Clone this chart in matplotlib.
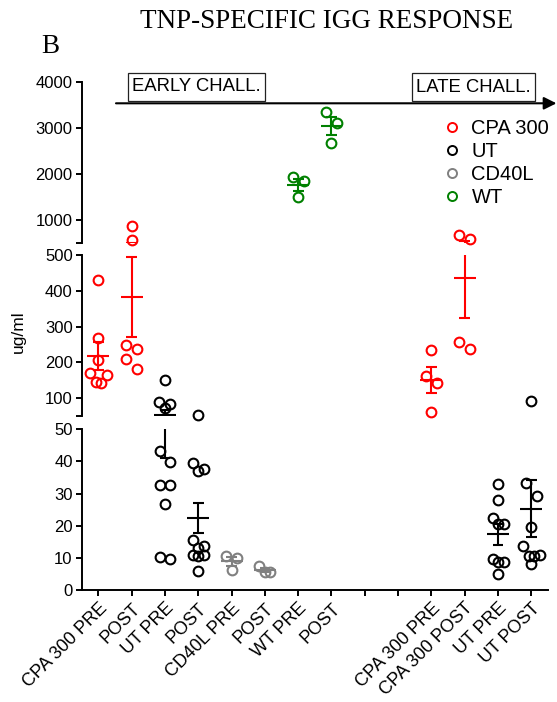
import numpy as np
import matplotlib
matplotlib.use('Agg')
import matplotlib.pyplot as plt
from matplotlib.lines import Line2D
from matplotlib.patches import Rectangle, FancyArrowPatch

plt.rcParams['font.family'] = ['Liberation Sans', 'DejaVu Sans']

# ---------------- data ----------------
categories = ['CPA 300 PRE', 'POST', 'UT PRE', 'POST', 'CD40L PRE', 'POST',
              'WT PRE', 'POST', '', '', 'CPA 300 PRE', 'CPA 300 POST',
              'UT PRE', 'UT POST']

cpa_pre_early = [430, 269, 206, 169, 165, 146, 143]
cpa_post_early = [863, 560, 248, 237, 208, 181]
ut_pre_early = [151, 90, 83, 72, 43.3, 39.9, 32.7, 32.7, 26.8, 10.4, 9.6]
ut_post_early = [52, 39.4, 37.6, 37.0, 15.6, 13.7, 13.0, 10.9, 10.8, 10.6, 6.0]
cd40l_pre = [10.6, 10.1, 6.2]
cd40l_post = [7.6, 5.6, 5.5]
wt_pre = [1922, 1848, 1487]
wt_post = [3348, 3096, 2661]
cpa_pre_late = [234, 163, 143, 62]
cpa_post_late = [667, 580, 256, 236]
ut_pre_late = [32.9, 28.0, 22.3, 20.7, 20.5, 9.6, 8.8, 8.6, 5.0]
ut_post_late = [92, 33.2, 29.2, 19.5, 13.7, 10.9, 10.7, 10.6, 8.1]

group_positions = [0, 1, 2, 3, 4, 5, 6, 7, 10, 11, 12, 13]
group_values = [cpa_pre_early, cpa_post_early, ut_pre_early, ut_post_early,
                cd40l_pre, cd40l_post, wt_pre, wt_post,
                cpa_pre_late, cpa_post_late, ut_pre_late, ut_post_late]
group_kind = ['CPA 300', 'CPA 300', 'UT', 'UT', 'CD40L', 'CD40L', 'WT', 'WT',
              'CPA 300', 'CPA 300', 'UT', 'UT']

legend_labels = ['CPA 300', 'UT', 'CD40L', 'WT']
legend_colors = ['#FF0000', '#000000', '#808080', '#008000']
color_of = dict(zip(legend_labels, legend_colors))

seg_limits = [(0, 50), (50, 500), (500, 4000)]
seg_ticks = [[0, 10, 20, 30, 40, 50],
             [50, 100, 200, 300, 400, 500],
             [500, 1000, 2000, 3000, 4000]]
seg_ticklabels = [['0', '10', '20', '30', '40', '50'],
                  ['', '100', '200', '300', '400', '500'],
                  ['', '1000', '2000', '3000', '4000']]

# ---------------- figure ----------------
FW, FH = 557, 702
fig = plt.figure(figsize=(FW / 100, FH / 100), dpi=100)
L, W = 0.1467, 0.8371
ax_bot = fig.add_axes([L, 0.1595, W, 0.2289])
ax_mid = fig.add_axes([L, 0.4074, W, 0.2293])
ax_top = fig.add_axes([L, 0.6543, W, 0.2293])
axes = [ax_bot, ax_mid, ax_top]

LW = 1.4
for ax, (lo, hi), tk, tl in zip(axes, seg_limits, seg_ticks, seg_ticklabels):
    ax.set_xlim(-0.5, 13.5)
    ax.set_ylim(lo, hi)
    ax.patch.set_visible(False)
    for s in ['top', 'right']:
        ax.spines[s].set_visible(False)
    ax.spines['left'].set_linewidth(LW)
    ax.spines['bottom'].set_linewidth(LW)
    ax.set_yticks(tk)
    ax.set_yticklabels(tl)
    ax.tick_params(axis='y', length=4, width=LW, labelsize=12, pad=2.5)
    if ax is not ax_bot:
        ax.spines['bottom'].set_visible(False)
        ax.tick_params(axis='x', bottom=False, labelbottom=False)

ax_bot.set_xticks(range(len(categories)))
ax_bot.set_xticklabels(categories, rotation=45, ha='right', va='top',
                       rotation_mode='anchor', fontsize=13)
ax_bot.tick_params(axis='x', length=4, width=LW, pad=3)


def owner(v):
    return 0 if v < 50 else (1 if v < 500 else 2)


pxu = ax_bot.transData.transform((1, 0))[0] - ax_bot.transData.transform((0, 0))[0]
ROW_H = 13.0


def row_layout(values, xc):
    """Prism-like scatter: points close in height share a row and are spread."""
    vals = np.asarray(values, dtype=float)
    py = np.array([axes[owner(v)].transData.transform((xc, v))[1] for v in vals])
    order = np.argsort(-py)
    offs = np.zeros(len(vals))
    i = 0
    while i < len(order):
        row = [order[i]]
        j = i + 1
        while j < len(order) and py[order[i]] - py[order[j]] < ROW_H:
            row.append(order[j])
            j += 1
        n = len(row)
        if n == 2:
            pos = [-5.35, 5.35]
        elif n == 3:
            pos = [-5.5, 5.5, 0.0]
        elif n >= 4:
            slots = [(k - (n - 1) / 2) * 5.5 for k in range(n)]
            pos = sorted(slots, key=lambda s: (-abs(s), s))
        else:
            pos = [0.0]
        for idx, p in zip(row, pos):
            offs[idx] = p
        i = j
    return xc + offs / pxu


MS, MEW = 7, 1.5
EB = 1.5
for xc, vals, kind in zip(group_positions, group_values, group_kind):
    col = color_of[kind]
    vals = np.asarray(vals, dtype=float)
    mean = vals.mean()
    sem = vals.std(ddof=1) / np.sqrt(len(vals))
    for ax in axes:
        ax.hlines(mean, xc - 0.33, xc + 0.33, color=col, lw=EB, zorder=3)
        ax.vlines(xc, mean - sem, mean + sem, color=col, lw=EB, zorder=3)
        ax.hlines([mean - sem, mean + sem], xc - 0.16, xc + 0.16, color=col,
                  lw=EB, zorder=3)
    xs = row_layout(vals, xc)
    for x, v in zip(xs, vals):
        axes[owner(v)].plot([x], [v], ls='none', marker='o', ms=MS, mew=MEW,
                            mfc='none', mec=col, clip_on=False, zorder=4)

# ---------------- legend ----------------
handles = [Line2D([], [], ls='none', marker='o', ms=6.5, mew=1.4, mfc='none',
                  mec=c) for c in legend_colors]
fig.legend(handles, legend_labels, loc='upper left',
           bbox_to_anchor=(0.794, 0.831), frameon=False, fontsize=14.5,
           handlelength=1.0, handletextpad=0.45, labelspacing=0.21,
           borderpad=0, borderaxespad=0)

# ---------------- annotations ----------------
fig.text(0.586, 0.9597, 'TNP-SPECIFIC IGG RESPONSE', ha='center', va='baseline',
         fontsize=19.5, family=['Liberation Serif', 'DejaVu Serif'])
fig.text(0.0736, 0.924, 'B', ha='left', va='baseline', fontsize=19.5,
         family=['Liberation Serif', 'DejaVu Serif'])
fig.text(0.033, 0.5278, 'ug/ml', rotation=90, ha='center', va='center',
         fontsize=12.5)


def label_box(x0, x1, y0, y1, text):
    fig.patches.append(Rectangle((x0 / FW, 1 - y1 / FH), (x1 - x0) / FW,
                                 (y1 - y0) / FH, transform=fig.transFigure,
                                 fc='white', ec='#222222', lw=0.9, zorder=5))
    fig.text((x0 + x1) / 2 / FW, 1 - (y0 + y1) / 2 / FH, text, ha='center',
             va='center', fontsize=13.3, zorder=6)


label_box(127.7, 265, 72.7, 100.7, 'EARLY CHALL.')
label_box(411.7, 535, 73.3, 101, 'LATE CHALL.')

fig.patches.append(FancyArrowPatch(
    (116 / FW, 1 - 103.3 / FH), (0.999, 1 - 103.3 / FH), transform=fig.transFigure,
    arrowstyle='-|>,head_length=0.5,head_width=0.25', mutation_scale=15,
    lw=1.5, color='black', shrinkA=0, shrinkB=0))

fig.savefig('out.png', dpi=100)
